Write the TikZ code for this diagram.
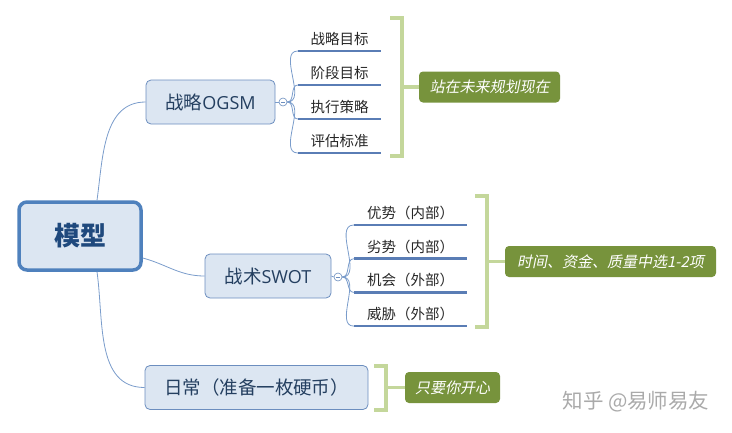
\documentclass[tikz,border=0pt]{standalone}
\usepackage{fontspec}
\setmainfont{Noto Sans CJK SC}
\newfontfamily\slantcjk[FakeSlant=0.2]{Noto Sans CJK SC}
\newfontfamily\latinfont{Open Sans}
\usetikzlibrary{positioning}

\definecolor{topicfill}{HTML}{DCE6F2}
\definecolor{topicline}{HTML}{6C8EBF}
\definecolor{topictext}{HTML}{243F60}
\definecolor{rootline}{HTML}{4F81BD}
\definecolor{roottext}{HTML}{1F497D}
\definecolor{ulinecol}{HTML}{5A7DB5}
\definecolor{branchcol}{HTML}{7A9CCB}
\definecolor{brackcol}{HTML}{C4D79B}
\definecolor{notefill}{HTML}{77933C}
\definecolor{markgray}{HTML}{AAAAAA}

\begin{document}
\begin{tikzpicture}[x=1pt,y=-1pt,
    root/.style={draw=rootline,fill=topicfill,line width=3.5pt,rounded corners=8pt,
      minimum width=122pt,minimum height=68pt,text=roottext,
      font=\bfseries\fontsize{26}{28}\selectfont},
    topic/.style={draw=topicline,fill=topicfill,line width=0.8pt,rounded corners=5pt,
      minimum height=44pt,inner xsep=8pt,text=topictext,
      font=\fontsize{18.5}{20}\selectfont},
    knob/.style={circle,draw=topicline,fill=white,line width=0.6pt,inner sep=0pt,minimum size=8pt,
      path picture={\draw[topicline,line width=0.5pt]
        ([xshift=-2pt]path picture bounding box.center) -- ([xshift=2pt]path picture bounding box.center);}},
    leaf/.style={anchor=south,inner ysep=5pt,text=black!85,font=\fontsize{14.5}{16}\selectfont},
    uline/.style={draw=ulinecol,line width=2.6pt},
    branch/.style={draw=branchcol,line width=0.8pt},
    bracket/.style={draw=brackcol,line width=3.5pt},
    note/.style={fill=notefill,text=white,rounded corners=4pt,minimum height=31pt,
      inner xsep=7pt,font=\slantcjk\fontsize{15}{17}\selectfont}]
  \useasboundingbox (0,0) rectangle (732,432);

  % main topics
  \node[root] (model) at (80,236) {模型};
  \node[topic,minimum width=129pt] (ogsm) at (210.5,102) {战略{\latinfont\fontsize{18}{20}\selectfont OGSM}};
  \node[topic,minimum width=126pt] (swot) at (268,276) {战术{\latinfont\fontsize{18}{20}\selectfont SWOT}};
  \node[topic,minimum width=223pt] (daily) at (256.5,387.5) {日常（准备一枚硬币）};

  \draw[branch] ([xshift=17pt]model.north) to[out=82,in=180] (ogsm.west);
  \draw[branch] ([yshift=-22pt]model.east) to[out=-15,in=180] (swot.west);
  \draw[branch] ([xshift=17pt]model.south) to[out=-82,in=180] (daily.west);

  % collapse knobs
  \node[knob] (k1) at (283,102) {};
  \node[knob] (k2) at (338,277) {};
  \draw[branch] (ogsm.east) -- (k1.west);
  \draw[branch] (swot.east) -- (k2.west);

  % OGSM leaves
  \foreach \txt [count=\i] in {战略目标,阶段目标,执行策略,评估标准} {
    \node[leaf,minimum width=83pt] (g\i) at (339.5,{51+34*(\i-1)}) {\txt};
    \draw[uline] (g\i.south west) -- (g\i.south east);
    \draw[branch] (k1.east) to[out=0,in=180] (g\i.south west);
  }

  % SWOT leaves
  \foreach \txt [count=\i] in {优势（内部）,劣势（内部）,机会（外部）,威胁（外部）} {
    \node[leaf,minimum width=113pt] (s\i) at (410.5,{225+33.7*(\i-1)}) {\txt};
    \draw[uline] (s\i.south west) -- (s\i.south east);
    \draw[branch] (k2.east) to[out=0,in=180] (s\i.south west);
  }

  % summaries
  \node[note,minimum width=141pt] (n1) at (489.5,87) {站在未来规划现在};
  \node[note,minimum width=211pt] (n2) at (610.5,261.5) {时间、资金、质量中选1-2项};
  \node[note,minimum width=95pt] (n3) at (452.5,387.5) {只要你开心};

  \coordinate (b1) at (402,87);
  \coordinate (b2) at (487,261.5);
  \coordinate (b3) at (386,387.5);
  \draw[bracket] (390,18) -- (402,18) -- (402,156) -- (390,156);
  \draw[bracket] (475,196) -- (487,196) -- (487,327) -- (475,327);
  \draw[bracket] (374,366) -- (386,366) -- (386,410) -- (374,410);
  \draw[bracket] (b1) -- (n1.west);
  \draw[bracket] (b2) -- (n2.west);
  \draw[bracket] (b3) -- (n3.west);

  \node[text=markgray,font=\fontsize{20.5}{22}\selectfont] (mark) at (636,402) {知乎 @易师易友};
\end{tikzpicture}
\end{document}
